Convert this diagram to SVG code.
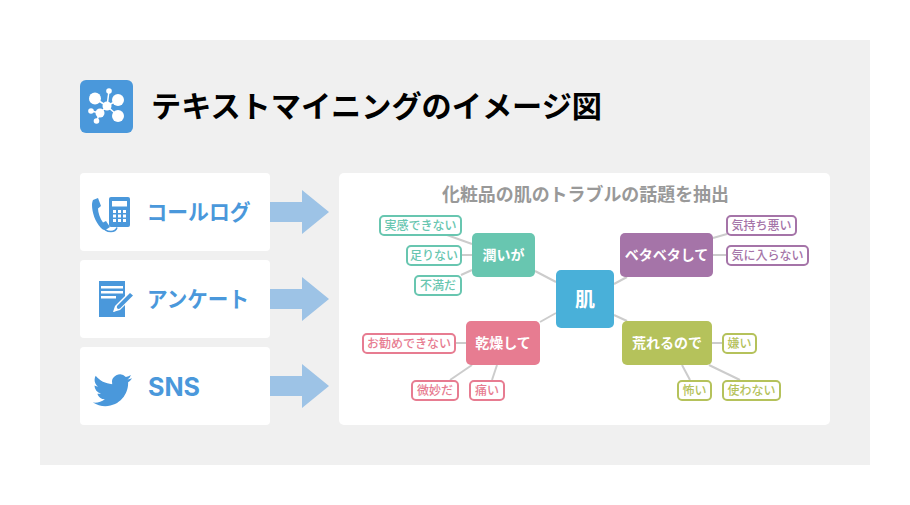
<svg xmlns="http://www.w3.org/2000/svg" width="910" height="505" viewBox="0 0 910 505">
<style>
text{font-family:"Noto Sans CJK JP","Noto Sans",sans-serif;text-anchor:middle}
.card{fill:#fff}
.src{font-size:22px;font-weight:700;fill:#4a98db}
.ic{fill:#4a98db}
.arrow{fill:#9dc3e6}
.conn line{stroke:#ccc;stroke-width:2}
.n{font-size:14px;font-weight:700;fill:#fff}
.t{font-size:12px;font-weight:500}
.tag rect{fill:#fff;stroke-width:2}
.g rect{stroke:#68c6b0}.g text{fill:#68c6b0}
.p rect{stroke:#a574a8}.p text{fill:#a574a8}
.r rect{stroke:#e77c91}.r text{fill:#e77c91}
.o rect{stroke:#b5c25b}.o text{fill:#b5c25b}
</style>
<rect width="910" height="505" fill="#fff"/>
<rect x="40" y="40" width="830" height="425" fill="#f0f0f0"/>
<g id="title-icon">
<rect x="80" y="80" width="53" height="53" rx="6" fill="#4a98db"/>
<g stroke="#fff" stroke-width="1.500"><line x1="107" y1="106" x2="95" y2="98.500"/><line x1="107" y1="106" x2="118" y2="100"/><line x1="107" y1="106" x2="118" y2="116"/><line x1="107" y1="106" x2="100" y2="113"/><line x1="107" y1="106" x2="109" y2="91"/><line x1="100" y1="113" x2="91" y2="111"/><line x1="100" y1="113" x2="96.500" y2="121"/></g>
<g fill="#fff"><circle cx="107" cy="106" r="4.500"/><circle cx="95" cy="98.500" r="6"/><circle cx="118" cy="100" r="6"/><circle cx="118" cy="116" r="6"/><circle cx="100" cy="113" r="4.500"/><circle cx="109" cy="91" r="2.800"/><circle cx="91" cy="111" r="2.800"/><circle cx="96.500" cy="121" r="2.800"/></g>
</g>
<text x="376.500" y="117" font-size="30" font-weight="700" fill="#000" textLength="451" lengthAdjust="spacingAndGlyphs">テキストマイニングのイメージ図</text>
<g id="source-call">
<rect class="card" x="80" y="173" width="190" height="78" rx="4"/>
<path class="ic" d="M93 200l5-2 3 8-3 2.500c0 4 2 10 5 14l3-1.500 4 6-3 2c-2 1.500-4 1-6-1C95 222 92 212 92 205c0-2 .5-4 1-5z"/>
<path d="M103 226c1 4 5 5.500 8 5.500 3 0 5-1 6-4" fill="none" stroke="#4a98db" stroke-width="1.500"/>
<rect class="ic" x="109" y="197" width="21" height="30" rx="2"/>
<rect x="112" y="201" width="15" height="5.500" fill="#fff"/>
<g fill="#fff"><rect x="113" y="210" width="3" height="3"/><rect x="118" y="210" width="3" height="3"/><rect x="123" y="210" width="3" height="3"/><rect x="113" y="214.500" width="3" height="3"/><rect x="118" y="214.500" width="3" height="3"/><rect x="123" y="214.500" width="3" height="3"/><rect x="113" y="219" width="3" height="3"/><rect x="118" y="219" width="3" height="3"/><rect x="123" y="219" width="3" height="3"/></g>
<text class="src" x="198.500" y="220" textLength="104" lengthAdjust="spacingAndGlyphs">コールログ</text>
</g>
<g id="source-survey">
<rect class="card" x="80" y="260" width="190" height="78" rx="4"/>
<rect class="ic" x="99" y="281" width="26" height="36"/>
<g fill="#fff"><rect x="101" y="286" width="22" height="2.500"/><rect x="101" y="291" width="22" height="2.500"/><rect x="101" y="296" width="15" height="2.500"/></g>
<path d="M113 312l2-6 15-15 5 4-15 15z" fill="#fff"/>
<path class="ic" d="M117 306l13-13 3 2.500-13 13-3.500 1z"/>
<path d="M113.500 312l2.500-5 2.500 2.500z" fill="#fff"/>
<text class="src" x="198" y="307" textLength="102" lengthAdjust="spacingAndGlyphs">アンケート</text>
</g>
<g id="source-sns">
<rect class="card" x="80" y="347" width="190" height="78" rx="4"/>
<path class="ic" transform="translate(93 370.700) scale(1.630)" d="M23.953 4.570a10 10 0 01-2.825.775 4.958 4.958 0 002.163-2.723c-.951.555-2.005.959-3.127 1.184a4.920 4.920 0 00-8.384 4.482C7.690 8.095 4.067 6.130 1.640 3.162a4.822 4.822 0 00-.666 2.475c0 1.710.870 3.213 2.188 4.096a4.904 4.904 0 01-2.228-.616v.060a4.923 4.923 0 003.946 4.827 4.996 4.996 0 01-2.212.085 4.936 4.936 0 004.604 3.417 9.867 9.867 0 01-6.102 2.105c-.390 0-.779-.023-1.170-.067a13.995 13.995 0 007.557 2.209c9.053 0 13.998-7.496 13.998-13.985 0-.210 0-.420-.015-.630A9.935 9.935 0 0024 4.590z"/>
<text x="174" y="396" font-size="25" font-weight="700" fill="#4a98db" textLength="52" lengthAdjust="spacingAndGlyphs" style="font-family:'Inter','Liberation Sans',sans-serif">SNS</text>
</g>
<g id="arrows">
<path class="arrow" d="M270 202h32v-12l27 22-27 22v-12h-32z"/>
<path class="arrow" d="M270 289h32v-12l27 22-27 22v-12h-32z"/>
<path class="arrow" d="M270 376h32v-12l27 22-27 22v-12h-32z"/>
</g>
<rect id="panel" x="339" y="173" width="491" height="252" rx="5" fill="#fff"/>
<text x="585.500" y="201" font-size="18" font-weight="700" fill="#999" textLength="287" lengthAdjust="spacingAndGlyphs">化粧品の肌のトラブルの話題を抽出</text>
<g class="conn" id="connectors">
<line x1="535" y1="271" x2="556" y2="282"/><line x1="614" y1="284" x2="627" y2="277"/><line x1="614" y1="315" x2="627" y2="321"/><line x1="540" y1="322" x2="556" y2="313"/>
<line x1="447" y1="235" x2="472" y2="244"/><line x1="461" y1="255" x2="472" y2="255"/><line x1="461" y1="275" x2="472" y2="270"/>
<line x1="713" y1="238" x2="727" y2="234"/><line x1="713" y1="255" x2="727" y2="255"/>
<line x1="456" y1="343" x2="466" y2="343"/><line x1="472" y1="365" x2="450" y2="380"/><line x1="497" y1="365" x2="492" y2="380"/>
<line x1="712" y1="343" x2="723" y2="343"/><line x1="682" y1="365" x2="690" y2="380"/><line x1="709" y1="365" x2="740" y2="380"/>
</g>
<g id="center"><rect x="556" y="270" width="58" height="58" rx="5" fill="#49b0d9"/><text x="585" y="307" font-size="20" font-weight="700" fill="#fff">肌</text></g>
<g id="n-uruoi"><rect x="472" y="233" width="63" height="44" rx="5" fill="#68c6b0"/><text class="n" x="503.500" y="260">潤いが</text></g>
<g id="n-beta"><rect x="620" y="233" width="93" height="44" rx="5" fill="#a574a8"/><text class="n" x="666.500" y="260">ベタベタして</text></g>
<g id="n-kanso"><rect x="466" y="321" width="74" height="44" rx="5" fill="#e77c91"/><text class="n" x="503" y="348">乾燥して</text></g>
<g id="n-are"><rect x="622" y="321" width="90" height="44" rx="5" fill="#b5c25b"/><text class="n" x="667" y="348">荒れるので</text></g>
<g id="t1" class="tag g"><rect x="380" y="216" width="81" height="19" rx="4"/><text class="t" x="420.500" y="230">実感できない</text></g>
<g id="t2" class="tag g"><rect x="407" y="246" width="54" height="19" rx="4"/><text class="t" x="434" y="260">足りない</text></g>
<g id="t3" class="tag g"><rect x="415" y="276" width="46" height="19" rx="4"/><text class="t" x="438" y="290">不満だ</text></g>
<g id="t4" class="tag p"><rect x="727" y="216" width="69" height="19" rx="4"/><text class="t" x="761.500" y="230">気持ち悪い</text></g>
<g id="t5" class="tag p"><rect x="727" y="246" width="81" height="19" rx="4"/><text class="t" x="767.500" y="260">気に入らない</text></g>
<g id="t6" class="tag r"><rect x="363" y="334" width="92" height="19" rx="4"/><text class="t" x="409" y="348">お勧めできない</text></g>
<g id="t7" class="tag r"><rect x="412" y="381" width="46" height="19" rx="4"/><text class="t" x="435" y="395">微妙だ</text></g>
<g id="t8" class="tag r"><rect x="470" y="381" width="34" height="19" rx="4"/><text class="t" x="487" y="395">痛い</text></g>
<g id="t9" class="tag o"><rect x="723" y="334" width="33" height="19" rx="4"/><text class="t" x="739.500" y="348">嫌い</text></g>
<g id="t10" class="tag o"><rect x="678" y="381" width="33" height="19" rx="4"/><text class="t" x="694.500" y="395">怖い</text></g>
<g id="t11" class="tag o"><rect x="723" y="381" width="57" height="19" rx="4"/><text class="t" x="751.500" y="395">使わない</text></g>
</svg>
